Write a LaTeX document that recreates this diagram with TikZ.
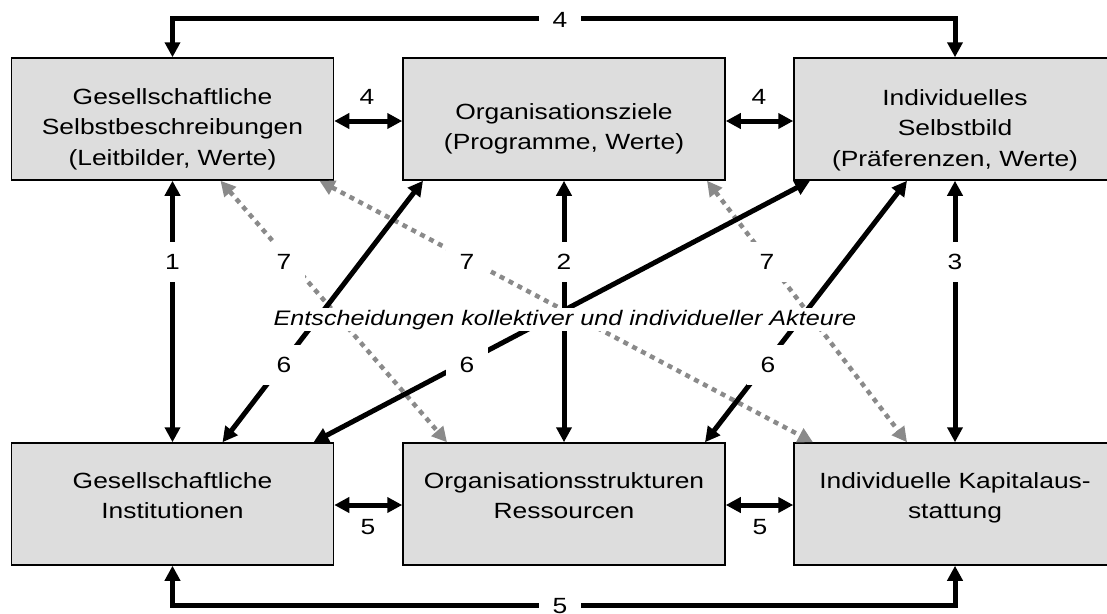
\documentclass[tikz,border=0pt]{standalone}
\usepackage{fontspec}
\setmainfont{Liberation Sans}[FakeStretch=1.2]
\usetikzlibrary{arrows.meta}
\definecolor{boxgray}{HTML}{DDDDDD}
\definecolor{dotgray}{HTML}{8A8A8A}
\begin{document}
\begin{tikzpicture}[x=1pt,y=-1pt,
  box/.style={draw=black, line width=1.5pt, fill=boxgray, minimum width=322pt, minimum height=122pt, inner sep=0pt},
  boxtext/.style={anchor=north, align=center, inner sep=0pt, font=\fontsize{22}{30.5}\selectfont},
  conn/.style={line width=5pt, >={Triangle[length=15pt,width=15pt]}, <->},
  dotconn/.style={dotgray, line width=4.5pt, dash pattern=on 5pt off 5pt, >={Triangle[length=15pt,width=15pt]}, <->},
  lab/.style={fill=white, inner xsep=14pt, inner ysep=12pt, font=\fontsize{22}{26}\selectfont},
  plainlab/.style={inner sep=0pt, font=\fontsize{22}{26}\selectfont}
]
\clip (0,0) rectangle (1107,613);
\fill[white] (0,0) rectangle (1107,613);

% boxes
\node[box] (GS) at (172.5,119) {};
\node[box] (OZ) at (564,119) {};
\node[box] (IS) at (955,119) {};
\node[box] (GI) at (172.5,504) {};
\node[box] (OS) at (564,504) {};
\node[box] (IK) at (955,504) {};

\node[boxtext] (tGS) at (172.5,88) {Gesellschaftliche\\Selbstbeschreibungen\\(Leitbilder, Werte)};
\node[boxtext] (tOZ) at (564,103) {Organisationsziele\\(Programme, Werte)};
\node[boxtext] (tIS) at (955,89) {Individuelles\\Selbstbild\\(Präferenzen, Werte)};
\node[boxtext] (tGI) at (172.5,472) {Gesellschaftliche\\Institutionen};
\node[boxtext] (tOS) at (564,472) {Organisationsstrukturen\\Ressourcen};
\node[boxtext] (tIK) at (955,472) {Individuelle Kapitalaus-\\stattung};

% coordinates for outer connectors
\coordinate (top4) at (560,18);
\coordinate (bot5) at (560,605);

% grey dotted connectors (7)
\draw[dotconn] ([xshift=48pt]GS.south) -- ([xshift=-117pt]OS.north);
\draw[dotconn] ([xshift=147pt]GS.south) -- ([xshift=-142pt]IK.north);
\draw[dotconn] ([xshift=143pt]OZ.south) -- ([xshift=-48pt]IK.north);

% black diagonal connectors (6)
\draw[conn] ([xshift=50pt]GI.north) -- ([xshift=-141pt]OZ.south);
\draw[conn] ([xshift=141pt]GI.north) -- ([xshift=-145pt]IS.south);
\draw[conn] ([xshift=141pt]OS.north) -- ([xshift=-48pt]IS.south);

% vertical connectors
\draw[conn] (GS.south) -- (GI.north);
\draw[conn] (OZ.south) -- (OS.north);
\draw[conn] (IS.south) -- (IK.north);

% horizontal connectors
\draw[conn] ([yshift=-2pt]GS.east) -- ([yshift=-2pt]OZ.west);
\draw[conn] ([yshift=-2pt]OZ.east) -- ([yshift=-2pt]IS.west);
\draw[conn] ([yshift=-1pt]GI.east) -- ([yshift=-1pt]OS.west);
\draw[conn] ([yshift=-1pt]OS.east) -- ([yshift=-1pt]IK.west);

% outer connectors
\draw[conn] (GS.north) |- (top4) -| (IS.north);
\draw[conn] (GI.south) |- (bot5) -| (IK.south);

% labels
\node[lab] (L4top) at (560,20) {4};
\node[lab] (L5bot) at (560,606) {5};
\node[plainlab] (L4a) at (367,97) {4};
\node[plainlab] (L4b) at (759,97) {4};
\node[plainlab] (L5a) at (368,527) {5};
\node[plainlab] (L5b) at (760,527) {5};
\node[lab] (L1) at (172.5,262) {1};
\node[lab] (L2) at (564,262) {2};
\node[lab] (L3) at (955,262) {3};
\node[lab] (L7a) at (284,262) {7};
\node[lab] (L7b) at (467,262) {7};
\node[lab] (L7c) at (767,262) {7};
\node[lab] (L6a) at (284,365) {6};
\node[lab] (L6b) at (467,365) {6};
\node[lab] (L6c) at (768,365) {6};

% central text
\node[fill=white, inner xsep=1pt, inner ysep=2pt, anchor=base, font=\fontsize{21}{26}\selectfont\itshape] (ctr) at (565,325) {Entscheidungen kollektiver und individueller Akteure};
\end{tikzpicture}
\end{document}
